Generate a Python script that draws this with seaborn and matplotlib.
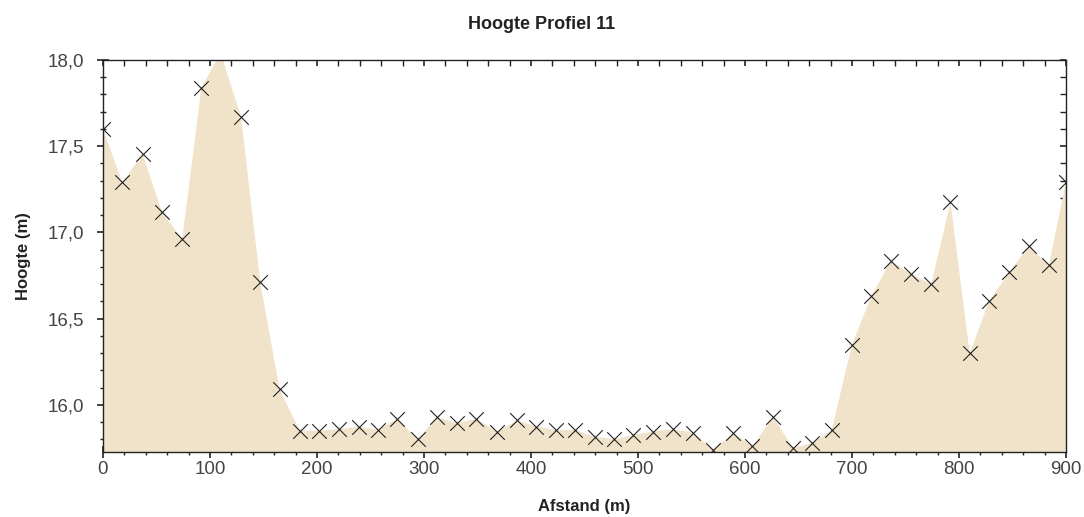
import matplotlib
matplotlib.use("Agg")
import matplotlib.pyplot as plt
from matplotlib.ticker import MultipleLocator, FuncFormatter
import seaborn as sns
import pandas as pd

afstand = [0, 18, 37, 55, 74, 92, 110, 129, 147, 165, 184, 202, 221, 239, 257,
           275, 294, 312, 331, 349, 368, 387, 405, 423, 441, 460, 478, 495, 514,
           533, 551, 570, 589, 607, 626, 645, 663, 681, 700, 718, 736, 755, 774,
           792, 810, 828, 847, 865, 884, 900]
hoogte = [17.60, 17.29, 17.455, 17.12, 16.96, 17.84, 18.04, 17.67, 16.71, 16.09,
          15.85, 15.85, 15.86, 15.874, 15.855, 15.92, 15.80, 15.93, 15.894, 15.92,
          15.845, 15.91, 15.874, 15.855, 15.855, 15.816, 15.80, 15.826, 15.845, 15.859,
          15.84, 15.74, 15.836, 15.76, 15.93, 15.75, 15.78, 15.855, 16.35, 16.63,
          16.835, 16.76, 16.70, 17.175, 16.30, 16.60, 16.77, 16.92, 16.81, 17.295]

df = pd.DataFrame({"Afstand": afstand, "Hoogte": hoogte})

sns.set_style("white")
plt.rcParams['font.family'] = ['Liberation Sans', 'DejaVu Sans']

fig = plt.figure(figsize=(10.84, 5.17), dpi=100)
ax = fig.add_axes([103 / 1084, 1 - 452 / 517, (1066 - 103) / 1084, (452 - 60) / 517])

ymin, ymax = 15.727, 18.0
ax.fill_between(df["Afstand"], ymin - 1, df["Hoogte"], color="#F1E3C9", linewidth=0, zorder=1)
sns.scatterplot(data=df, x="Afstand", y="Hoogte", marker="x", s=110, color="#222222",
                linewidth=0.8, ax=ax, zorder=3, clip_on=True, legend=False)

ax.set_xlim(0, 900)
ax.set_ylim(ymin, ymax)
ax.xaxis.set_major_locator(MultipleLocator(100))
ax.xaxis.set_minor_locator(MultipleLocator(20))
ax.yaxis.set_major_locator(MultipleLocator(0.5))
ax.yaxis.set_minor_locator(MultipleLocator(0.1))
ax.yaxis.set_major_formatter(FuncFormatter(lambda v, p: f"{v:.1f}".replace(".", ",")))

for s in ax.spines.values():
    s.set_color("#222222")
    s.set_linewidth(1.0)

ax.tick_params(axis="both", which="both", bottom=True, left=True, top=True, right=True,
               colors="#222222", labelcolor="#444444", labelsize=13.5)
ax.tick_params(axis="x", which="major", direction="inout", length=9, width=1.2, pad=2)
ax.tick_params(axis="x", which="minor", direction="inout", length=5, width=1.0)
ax.tick_params(axis="y", which="major", direction="inout", length=9, width=1.2, pad=9)
ax.tick_params(axis="y", which="minor", direction="inout", length=5, width=1.0)
for t in ax.xaxis.get_major_ticks() + ax.xaxis.get_minor_ticks():
    t.tick2line.set_marker(3)
    t.tick2line.set_markersize(4)
for t in ax.yaxis.get_major_ticks() + ax.yaxis.get_minor_ticks():
    t.tick2line.set_marker(0)
    t.tick2line.set_markersize(4)

ax.set_xlabel("Afstand (m)", fontsize=12, fontweight="bold", color="#222222", labelpad=15)
ax.set_ylabel("Hoogte (m)", fontsize=12, fontweight="bold", color="#222222", labelpad=12)
fig.suptitle("Hoogte Profiel 11", fontsize=13, fontweight="bold", color="#222222", y=0.97)

fig.savefig("out.png", dpi=100)
